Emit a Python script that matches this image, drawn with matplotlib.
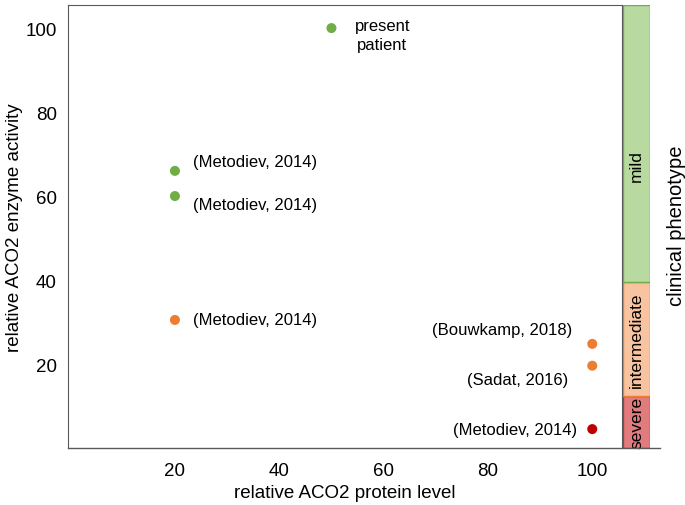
import matplotlib.pyplot as plt
from matplotlib.lines import Line2D

plt.rcParams['font.family'] = ['Liberation Sans', 'DejaVu Sans']

# data
protein_level = [50, 20, 20, 20, 100, 100, 100]
enzyme_activity = [100, 66, 60, 30.5, 24.8, 19.6, 4.5]
phenotype = ['mild', 'mild', 'mild', 'intermediate', 'intermediate', 'intermediate', 'severe']
point_labels = ['present\npatient', '(Metodiev, 2014)', '(Metodiev, 2014)', '(Metodiev, 2014)',
                '(Bouwkamp, 2018)', '(Sadat, 2016)', '(Metodiev, 2014)']

# clinical phenotype bands on the activity axis
band_names = ['severe', 'intermediate', 'mild']
band_lower = [0, 12.5, 39.5]
band_upper = [12.5, 39.5, 105.5]

dot_colors = {'mild': '#70ad47', 'intermediate': '#ed7d31', 'severe': '#c00000'}
band_fill = {'mild': '#b8d9a0', 'intermediate': '#f8c3a0', 'severe': '#e07b7e'}
band_edge = {'mild': '#70ad47', 'intermediate': '#ed7d31', 'severe': '#c9302c'}

# label offsets in pixels and alignment
label_offsets = [(51, -7, 'center'), (18, 9, 'left'), (18, -8, 'left'), (18, 0, 'left'),
                 (-20, 14, 'right'), (-24, -14, 'right'), (-15, 0, 'right')]
# where the band names sit (mild is drawn above its centre in the original)
band_text_y = [6.25, 26, 67.5]

fig = plt.figure(figsize=(6.85, 5.06), dpi=100)
ax = fig.add_axes([68 / 685, 57 / 506, 554 / 685, 443 / 506])

ax.scatter(protein_level, enzyme_activity, s=52,
           c=[dot_colors[p] for p in phenotype], zorder=3, linewidths=0)
for x, y, lab, (dx, dy, ha) in zip(protein_level, enzyme_activity, point_labels, label_offsets):
    ax.annotate(lab, (x, y), xytext=(dx, dy), textcoords='offset pixels',
                ha=ha, va='center', fontsize=12, linespacing=1.3)

ax.set_xlim(-0.5, 105.7)
ax.set_ylim(0, 105.5)
ax.set_xticks([20, 40, 60, 80, 100])
ax.set_yticks([20, 40, 60, 80, 100])
ax.tick_params(length=0, labelsize=13.5)
ax.tick_params(axis='x', pad=10)
ax.tick_params(axis='y', pad=8)
ax.set_xlabel('relative ACO2 protein level', fontsize=13.5, labelpad=4)
ax.set_ylabel('relative ACO2 enzyme activity', fontsize=13.5, labelpad=2)
for side in ['left', 'top', 'right']:
    ax.spines[side].set_color('#595959')
ax.spines['bottom'].set_visible(False)

# phenotype bar
bx = fig.add_axes([623 / 685, 57 / 506, 27 / 685, 443 / 506], sharey=ax)
for name, lo, hi, ty in zip(band_names, band_lower, band_upper, band_text_y):
    bx.bar(0.5, hi - lo, bottom=lo, width=1, color=band_fill[name],
           edgecolor=band_edge[name], linewidth=1)
    bx.text(0.5, ty, name, rotation=90, ha='center', va='center', fontsize=12.5)
bx.set_xlim(0, 1)
bx.axis('off')

fig.text(676 / 685, (506 - 226) / 506, 'clinical phenotype', rotation=90,
         ha='center', va='center', fontsize=14.5)

# bottom line running under the bar
fig.add_artist(Line2D([68 / 685, 660 / 685], [57 / 506, 57 / 506], color='#595959', lw=1))

fig.savefig('out.png', dpi=100)
